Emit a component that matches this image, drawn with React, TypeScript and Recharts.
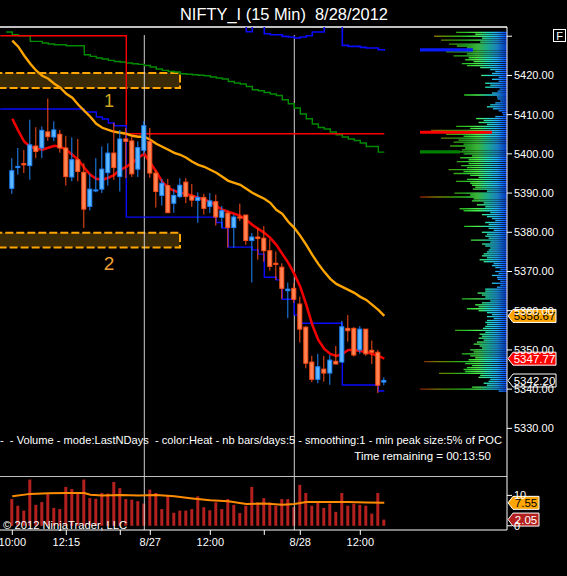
import React from 'react';
import { ComposedChart, Bar, Line, XAxis, YAxis, ReferenceLine, ReferenceArea } from 'recharts';

const FONT = "Arial, 'Liberation Sans', Helvetica, sans-serif";

// ---- 15-min candles, bar 0 = 8/24 10:00 ... bar 62 = 8/28 13:00 ----
const opens = [5391.2, 5396.5, 5397.5, 5397.0, 5402.0, 5401.5, 5405.6, 5404.3, 5405.0, 5401.5, 5394.1, 5398.5, 5395.3, 5386.6, 5390.6, 5391.0, 5395.2, 5400.2, 5394.2, 5403.8, 5403.3, 5396.1, 5400.9, 5403.2, 5395.1, 5389.4, 5391.9, 5387.4, 5389.1, 5392.8, 5389.3, 5388.1, 5388.9, 5386.6, 5387.8, 5383.8, 5384.9, 5381.2, 5383.9, 5384.4, 5377.9, 5378.8, 5378.5, 5375.3, 5372.1, 5371.1, 5365.1, 5365.7, 5361.7, 5355.8, 5346.9, 5342.5, 5345.1, 5344.1, 5347.1, 5346.9, 5355.5, 5355.5, 5350.0, 5355.3, 5349.9, 5349.4, 5341.8];
const highs = [5398.9, 5401.5, 5401.0, 5408.7, 5406.8, 5407.0, 5414.1, 5408.3, 5406.1, 5404.6, 5404.2, 5403.8, 5397.6, 5394.9, 5398.9, 5401.9, 5402.7, 5407.9, 5406.1, 5406.6, 5404.4, 5403.2, 5408.3, 5406.6, 5395.9, 5393.6, 5393.6, 5391.1, 5393.8, 5393.8, 5392.3, 5390.2, 5389.8, 5390.0, 5389.6, 5386.7, 5385.5, 5384.5, 5387.3, 5384.4, 5379.8, 5381.1, 5381.6, 5378.2, 5375.1, 5372.1, 5367.2, 5367.0, 5363.6, 5356.1, 5348.5, 5349.0, 5348.5, 5348.7, 5351.0, 5357.4, 5358.9, 5355.8, 5356.1, 5355.3, 5352.4, 5350.0, 5343.0];
const lows = [5389.8, 5394.7, 5395.1, 5393.4, 5398.9, 5398.9, 5403.3, 5403.2, 5400.3, 5391.9, 5393.0, 5393.0, 5381.1, 5385.6, 5390.2, 5390.0, 5391.9, 5393.4, 5390.4, 5393.8, 5394.1, 5394.1, 5399.8, 5393.9, 5386.3, 5386.8, 5384.9, 5385.0, 5388.7, 5387.4, 5386.5, 5382.4, 5384.5, 5384.9, 5381.7, 5381.1, 5376.1, 5376.1, 5382.9, 5376.8, 5367.2, 5373.0, 5372.5, 5370.2, 5367.9, 5363.0, 5358.1, 5362.0, 5351.9, 5345.3, 5341.8, 5341.5, 5341.9, 5341.1, 5346.4, 5346.9, 5352.1, 5348.3, 5349.0, 5348.5, 5346.4, 5339.0, 5341.0];
const closes = [5395.7, 5396.8, 5397.2, 5402.3, 5400.6, 5406.0, 5404.4, 5406.1, 5401.5, 5394.2, 5398.5, 5395.5, 5385.9, 5391.0, 5390.8, 5396.1, 5400.2, 5396.5, 5403.8, 5403.2, 5394.9, 5401.6, 5407.2, 5395.1, 5390.4, 5392.5, 5385.0, 5389.4, 5392.0, 5389.1, 5388.2, 5388.9, 5386.1, 5388.0, 5383.9, 5385.5, 5381.2, 5383.9, 5383.7, 5377.9, 5378.8, 5378.4, 5375.3, 5371.3, 5371.8, 5365.7, 5365.5, 5362.9, 5355.3, 5346.6, 5342.5, 5345.7, 5344.1, 5347.4, 5346.4, 5355.9, 5354.9, 5348.7, 5355.3, 5349.0, 5349.4, 5341.0, 5342.2];

// volume panel (bar 0..62)
const volumes = [8.8, 6.6, 5.0, 15.2, 6.9, 7.8, 10.5, 5.9, 5.5, 12.8, 12.1, 10.8, 15.2, 9.1, 8.9, 10.8, 10.6, 14.4, 12.4, 8.8, 8.6, 8.1, 7.3, 11.9, 10.8, 5.5, 10.0, 4.3, 5.0, 5.0, 5.5, 9.7, 6.1, 5.1, 7.7, 5.5, 8.8, 6.9, 4.2, 6.6, 12.8, 7.7, 9.1, 7.7, 6.6, 8.8, 8.8, 6.1, 13.5, 10.8, 6.6, 7.5, 5.9, 7.3, 4.6, 10.8, 6.6, 7.3, 6.9, 6.6, 4.0, 10.8, 2.05];
const volumeMA = [9.7, null, null, 10.5, null, null, 10.7, null, null, 10.8, null, null, 10.8, 10.2, null, 10.0, null, null, 10.1, null, null, 10.0, null, null, 10.1, null, null, 9.7, null, null, 9.0, null, null, 8.4, null, null, 8.1, null, null, 7.2, null, null, 7.3, null, null, 6.9, null, 7.2, null, 7.8, null, null, 7.8, null, null, null, 7.8, null, null, 7.7, null, null, 7.55];

// ---- indicator lines, slots -2 .. 62 ----
const lineIndex = Array.from({ length: 65 }, (_, k) => k - 2);
const redMA = [null, null, 5408.95, 5405.89, 5403.08, 5401.81, 5401.30, 5401.04, 5401.55, 5402.06, 5401.81, 5401.04, 5399.76, 5398.49, 5396.45, 5394.66, 5393.64, 5393.38, 5393.89, 5394.66, 5395.94, 5396.70, 5397.72, 5399.0, 5400.0, 5397.72, 5395.43, 5392.87, 5391.34, 5390.58, 5390.07, 5389.81, 5389.30, 5388.79, 5388.28, 5387.77, 5386.75, 5385.73, 5385.22, 5384.71, 5384.20, 5383.18, 5381.90, 5380.88, 5379.86, 5378.58, 5376.80, 5374.50, 5372.20, 5369.40, 5366.08, 5361.48, 5356.38, 5352.55, 5350.26, 5348.98, 5348.47, 5348.98, 5350.00, 5350.00, 5349.74, 5349.49, 5348.98, 5348.47, 5347.77];
const orangeMA = [null, null, 5428.86, 5427.33, 5425.03, 5422.99, 5421.20, 5419.92, 5419.16, 5417.88, 5416.86, 5415.33, 5414.31, 5412.52, 5410.99, 5409.46, 5407.68, 5406.65, 5406.14, 5405.63, 5405.38, 5405.12, 5404.61, 5404.36, 5404.36, 5403.59, 5402.57, 5401.81, 5401.04, 5400.27, 5399.76, 5399.00, 5397.98, 5397.21, 5396.70, 5395.94, 5395.17, 5394.15, 5393.13, 5392.62, 5392.11, 5391.09, 5390.07, 5389.30, 5388.54, 5387.51, 5385.73, 5384.71, 5382.67, 5381.13, 5379.09, 5376.80, 5374.24, 5371.95, 5369.91, 5368.12, 5366.84, 5366.08, 5365.31, 5364.55, 5363.53, 5362.76, 5361.48, 5360.21, 5358.67];
const greenStep = [null, 5431.08, 5430.39, 5430.13, 5430.13, 5428.68, 5428.68, 5428.27, 5428.01, 5427.84, 5427.84, 5427.58, 5427.58, 5427.58, 5425.28, 5424.85, 5424.44, 5424.19, 5423.83, 5423.57, 5423.42, 5423.17, 5422.99, 5422.81, 5422.55, 5422.15, 5421.64, 5421.28, 5421.02, 5420.87, 5420.44, 5420.31, 5420.18, 5420.05, 5419.92, 5419.59, 5419.34, 5419.08, 5418.47, 5418.06, 5417.81, 5417.19, 5416.35, 5416.10, 5415.66, 5415.25, 5414.90, 5413.80, 5412.78, 5411.68, 5410.15, 5408.95, 5407.60, 5406.73, 5406.32, 5405.56, 5404.87, 5404.28, 5403.77, 5403.41, 5402.75, 5401.88, 5401.88, 5400.45, 5400.45];
const blueLow = [5411.43, 5411.43, 5411.43, 5411.43, 5411.43, 5411.43, 5411.43, 5411.43, 5411.43, 5411.43, 5411.43, 5411.43, 5411.43, 5411.43, 5410.66, 5410.66, 5409.39, 5408.87, 5407.85, 5407.16, 5407.16, 5383.87, 5383.87, 5383.87, 5383.87, 5383.87, 5383.87, 5383.87, 5383.87, 5383.87, 5383.87, 5383.87, 5383.87, 5383.87, 5383.87, 5383.87, 5382.49, 5381.06, 5376.21, 5376.21, 5376.21, 5376.21, 5375.52, 5374.42, 5368.55, 5368.55, 5367.86, 5362.94, 5362.94, 5358.93, 5356.81, 5356.81, 5356.81, 5356.81, 5356.81, 5356.81, 5356.81, 5341.07, 5341.07, 5341.07, 5341.07, 5341.07, 5341.07, 5339.54, 5339.54];
const blueHigh = [null, null, null, null, null, null, null, null, null, null, null, null, null, null, null, null, null, null, null, null, null, null, null, null, null, null, null, null, null, null, null, null, null, null, null, null, null, null, null, null, 5433.5, 5431.15, 5432.6, 5432.6, 5430.64, 5430.39, 5430.39, 5429.95, 5429.80, 5429.55, 5429.80, 5430.13, 5431.08, 5431.08, 5432.6, 5432.6, 5432.6, 5427.66, 5427.40, 5427.40, 5427.15, 5427.00, 5427.00, 5426.56, 5426.31];
const redLevel = [5430.13, 5430.13, 5430.13, 5430.13, 5430.13, 5430.13, 5430.13, 5430.13, 5430.13, 5430.13, 5430.13, 5430.13, 5430.13, 5430.13, 5430.13, 5430.13, 5430.13, 5430.13, 5430.13, 5430.13, 5430.13, 5405.12, 5405.12, 5405.12, 5405.12, 5405.12, 5405.12, 5405.12, 5405.12, 5405.12, 5405.12, 5405.12, 5405.12, 5405.12, 5405.12, 5405.12, 5405.12, 5405.12, 5405.12, 5405.12, 5405.12, 5405.12, 5405.12, 5405.12, 5405.12, 5405.12, 5405.12, 5405.12, 5405.12, 5405.12, 5405.12, 5405.12, 5405.12, 5405.12, 5405.12, 5405.12, 5405.12, 5405.12, 5405.12, 5405.12, 5405.12, 5405.12, 5405.12, 5405.12, 5405.12];

// zones (price bands) and their right end (bar slot)
const zoneTop = [5420.6, 5379.9];
const zoneBottom = [5416.8, 5376.1];
const zoneEnd = 27.95;

// axes
const priceTicks = [5330, 5340, 5350, 5360, 5370, 5380, 5390, 5400, 5410, 5420, 5430];
const priceDomain = [5317.85, 5432.35];
const slotDomain = [-2.05, 82.45];
const timeTickIndex = [0, 9, 18, 23, 33, 42, 48, 58];
const timeTickText = ['10:00', '12:15', '', '8/27', '12:00', '', '8/28', '12:00'];
const sessionBreaks = [22, 47];
const volumeDomain = [-1.38, 16.38];
const volumeTicks = [0, 10];

// volume profile: rows every 0.5 pt from 5431.0 down, drawn leftwards from the right edge
const profileTop = 5431.0;
const profileStep = 0.5;
const profileWidthSlots = 14.5; // width (in bar slots) given to the largest row
const profileVolume = [50.7, 31.7, 72.7, 25, 65.7, 26.7, 57.7, 50, 40, 86.7, 60.7, 40, 53.3, 38.3, 41.7, 33.3, 45, 40, 26.7, 16.7, 11.7, 15, 25.7, 8.3, 15, 8.3, 21.7, 16.7, 21.7, 7.3, 9.3, 15, 42.7, 10, 9.3, 6.7, 11.7, 16.7, 20, 14, 8.3, 5, 4, 11.7, 30.7, 23.3, 28.3, 20, 50.7, 36.7, 75.7, 86.7, 60.7, 43.3, 65.7, 48.3, 53.3, 43.3, 56.7, 41.7, 45, 86.7, 43.3, 35, 46.7, 38.3, 50, 38.3, 45.7, 40, 58.3, 43.3, 53.3, 36.7, 28.3, 40, 50.7, 36.7, 35, 31.7, 34, 20, 52.3, 36.7, 86.7, 33.3, 35, 23.3, 30, 21.7, 47.3, 43.3, 16.7, 25, 20, 15, 11.7, 21.7, 18.3, 42.7, 18.3, 13.3, 25, 20, 21.7, 18.3, 36, 16.7, 25, 21.7, 16.7, 18.3, 20, 23.3, 25, 20, 27.3, 23.3, 13.3, 15, 11.7, 6.7, 11.7, 8.3, 15, 10, 9.3, 6.7, 15, 6.7, 10, 21.7, 21.7, 29.3, 25, 21.7, 45, 16.7, 25, 31.7, 28.3, 40, 28.3, 20, 15, 20, 13.3, 20, 21.7, 20, 21.7, 24, 51.7, 21.7, 27.3, 25, 28.3, 23.3, 30, 33.3, 27.3, 25, 36.7, 33.3, 45, 36.7, 31.7, 38.3, 82.7, 41.7, 35, 40, 43.3, 41.7, 67.7, 26.7, 28.3, 16.7, 18.3, 23.3, 20, 35, 86.7, 8.3];
const profilePeakRow = [9, 51, 61];
const profilePeakFrom = [34, 15, 47];
const profilePeakTo = [86.7, 86.7, 86.7];
const profilePeakColor = ['#0a1cff', '#ff0000', '#008000'];
const profileMax = Math.max(...profileVolume);
const profileX = (v: number) => slotDomain[1] - (v / profileMax) * profileWidthSlots;

const priceData = lineIndex.map((i, k) => ({
  i,
  range: i >= 0 ? [lows[i], highs[i]] : null,
  o: i >= 0 ? opens[i] : null,
  h: i >= 0 ? highs[i] : null,
  l: i >= 0 ? lows[i] : null,
  c: i >= 0 ? closes[i] : null,
  redMA: redMA[k],
  orangeMA: orangeMA[k],
  green: greenStep[k],
  blueLow: blueLow[k],
  blueHigh: blueHigh[k],
  redLevel: redLevel[k],
}));

const volumeData = volumes.map((v, i) => ({ i, v, ma: volumeMA[i] }));

const lastClose = closes[closes.length - 1];
const lastRed = redMA[redMA.length - 1] as number;
const lastOrange = orangeMA[orangeMA.length - 1] as number;
const lastVolMA = volumeMA[volumeMA.length - 1] as number;
const lastVol = volumes[volumes.length - 1];

const Candle = (props: any) => {
  const { x, y, width, height, payload } = props;
  if (!payload || payload.range == null || !isFinite(y) || !isFinite(height)) return null;
  const top = Math.min(y, y + height);
  const hh = Math.abs(height);
  const span = payload.h - payload.l || 1;
  const py = (p: number) => top + ((payload.h - p) / span) * hh;
  const cx = x + width / 2;
  const up = payload.c >= payload.o;
  const border = up ? '#1f86ff' : '#ff4d17';
  const fill = up ? '#5db9ff' : '#ff8352';
  const bTop = py(Math.max(payload.o, payload.c));
  let bBot = py(Math.min(payload.o, payload.c));
  if (bBot - bTop < 1) bBot = bTop + 1;
  return (
    <g>
      <line x1={cx} x2={cx} y1={top} y2={top + hh} stroke={border} strokeWidth={1} />
      <rect x={cx - 2} y={bTop} width={4} height={bBot - bTop} fill={fill} stroke={border} strokeWidth={1} />
    </g>
  );
};

const makeTag = (text: string, fill: string, textColor: string, w: number) => (props: any) => {
  const vb = props.viewBox || {};
  const x = (vb.x || 0) + (vb.width || 0);
  const y = vb.y || 0;
  return (
    <g>
      <path
        d={`M${x + 1},${y} L${x + 6},${y - 6.5} L${x + 6 + w},${y - 6.5} L${x + 6 + w},${y + 6.5} L${x + 6},${y + 6.5} Z`}
        fill={fill}
        stroke="#ffffff"
        strokeWidth={1}
      />
      <text x={x + 6 + w / 2} y={y + 4} textAnchor="middle" fill={textColor} fontSize={11.5} fontFamily={FONT}>
        {text}
      </text>
    </g>
  );
};

const axisTick = { fill: '#ffffff', fontSize: 11, fontFamily: FONT };

export default function App() {
  return (
    <div style={{ position: 'absolute', left: 0, top: 0, width: 567, height: 576, background: '#000', overflow: 'hidden' }}>
      <div style={{ position: 'absolute', left: 0, top: 0 }}>
        <ComposedChart width={567} height={476} data={priceData} margin={{ top: 27, right: 0, bottom: 0, left: 0 }}>
          <defs>
            <linearGradient id="vpHeat" gradientUnits="userSpaceOnUse" x1={420} y1={0} x2={507} y2={0}>
              <stop offset="0" stopColor="#8a1a00" />
              <stop offset="0.2" stopColor="#7d7a00" />
              <stop offset="0.36" stopColor="#3f9a08" />
              <stop offset="0.52" stopColor="#28c028" />
              <stop offset="0.66" stopColor="#4cf04c" />
              <stop offset="0.78" stopColor="#22e0c0" />
              <stop offset="0.89" stopColor="#22a8ff" />
              <stop offset="1" stopColor="#0040ff" />
            </linearGradient>
          </defs>
          <XAxis dataKey="i" type="number" domain={slotDomain} allowDataOverflow hide />
          <YAxis
            orientation="right"
            width={60}
            domain={priceDomain}
            allowDataOverflow
            ticks={priceTicks}
            interval={0}
            tickFormatter={(v: number) => (v >= 5430 ? '' : v.toFixed(2))}
            tick={axisTick}
            tickSize={5}
            tickLine={{ stroke: '#ffffff' }}
            axisLine={{ stroke: '#ffffff' }}
          />
          {zoneTop.map((t, z) => (
            <ReferenceArea
              key={'zone' + z}
              x1={-3}
              x2={zoneEnd}
              y1={zoneBottom[z]}
              y2={t}
              fill="#3b2a06"
              fillOpacity={1}
              stroke="#ffa500"
              strokeWidth={2}
              strokeDasharray="8 3"
              ifOverflow="hidden"
            />
          ))}
          {profileVolume.map((v, k) => {
            const p = profileTop - k * profileStep;
            return (
              <ReferenceArea
                key={'vp' + k}
                x1={profileX(v)}
                x2={slotDomain[1]}
                y1={p - 0.17}
                y2={p + 0.17}
                fill="url(#vpHeat)"
                fillOpacity={1}
                stroke="none"
                ifOverflow="hidden"
              />
            );
          })}
          {profilePeakRow.map((row, n) => {
            const p = profileTop - row * profileStep;
            return (
              <ReferenceArea
                key={'peak' + n}
                x1={profileX(profilePeakTo[n])}
                x2={profileX(profilePeakFrom[n])}
                y1={p - 0.4}
                y2={p + 0.4}
                fill={profilePeakColor[n]}
                fillOpacity={1}
                stroke="none"
                ifOverflow="hidden"
              />
            );
          })}
          <ReferenceLine y={priceDomain[1]} stroke="#ffffff" strokeWidth={1.5} />
          {sessionBreaks.map((s) => (
            <ReferenceLine
              key={'sb' + s}
              segment={[{ x: s, y: 5430.3 }, { x: s, y: priceDomain[0] }]}
              stroke="#cfcfcf"
              strokeWidth={1}
            />
          ))}
          <Line dataKey="green" type="stepAfter" stroke="#008a00" strokeWidth={1.4} dot={false} isAnimationActive={false} />
          <Line dataKey="redLevel" type="stepAfter" stroke="#ff0000" strokeWidth={1.4} dot={false} isAnimationActive={false} />
          <Line dataKey="blueLow" type="stepAfter" stroke="#0a0aff" strokeWidth={1.4} dot={false} isAnimationActive={false} />
          <Line dataKey="blueHigh" type="stepAfter" stroke="#0a0aff" strokeWidth={1.6} dot={false} isAnimationActive={false} />
          <Line dataKey="orangeMA" type="linear" stroke="#ffa500" strokeWidth={2.4} dot={false} isAnimationActive={false} />
          <Line dataKey="redMA" type="linear" stroke="#f00000" strokeWidth={2.6} dot={false} isAnimationActive={false} />
          <Bar dataKey="range" barSize={5} shape={Candle} isAnimationActive={false} zIndex={450} />
          <ReferenceLine y={lastOrange} stroke="none" label={makeTag(lastOrange.toFixed(2), '#ffa500', '#000000', 43)} />
          <ReferenceLine y={lastRed} stroke="none" label={makeTag(lastRed.toFixed(2), '#ff0000', '#ffffff', 43)} />
          <ReferenceLine y={lastClose} stroke="none" label={makeTag(lastClose.toFixed(2), '#000000', '#ffffff', 43)} />
        </ComposedChart>
      </div>
      <div style={{ position: 'absolute', left: 0, top: 476 }}>
        <ComposedChart width={567} height={100} data={volumeData} margin={{ top: 0, right: 0, bottom: 0, left: 0 }}>
          <XAxis
            dataKey="i"
            type="number"
            domain={slotDomain}
            allowDataOverflow
            ticks={timeTickIndex}
            interval={0}
            tickFormatter={(v: number) => timeTickText[timeTickIndex.indexOf(v)] || ''}
            tick={axisTick}
            tickSize={5}
            tickMargin={3}
            tickLine={{ stroke: '#ffffff' }}
            axisLine={{ stroke: '#ffffff' }}
            height={46}
          />
          <YAxis
            orientation="right"
            width={60}
            domain={volumeDomain}
            allowDataOverflow
            ticks={volumeTicks}
            interval={0}
            tick={axisTick}
            tickSize={5}
            tickLine={{ stroke: '#ffffff' }}
            axisLine={{ stroke: '#ffffff' }}
          />
          <ReferenceLine y={volumeDomain[1]} stroke="#ffffff" strokeWidth={1.5} />
          {sessionBreaks.map((s) => (
            <ReferenceLine key={'vsb' + s} x={s} stroke="#cfcfcf" strokeWidth={1} />
          ))}
          <Bar dataKey="v" barSize={3} fill="#b3201e" isAnimationActive={false} />
          <Line dataKey="ma" type="linear" stroke="#ff8c00" strokeWidth={2} dot={false} connectNulls isAnimationActive={false} />
          <ReferenceLine y={lastVolMA} stroke="none" label={makeTag(lastVolMA.toFixed(2), '#ffa500', '#000000', 26)} />
          <ReferenceLine y={lastVol} stroke="none" label={makeTag(lastVol.toFixed(2), '#b3201e', '#ffffff', 26)} />
        </ComposedChart>
      </div>
      <svg width={567} height={576} style={{ position: 'absolute', left: 0, top: 0, pointerEvents: 'none' }}>
        <text x={180} y={19.5} fill="#ffffff" fontSize={16} fontFamily={FONT} textLength={208} lengthAdjust="spacingAndGlyphs" style={{ whiteSpace: 'pre' }}>
          {'NIFTY_I (15 Min)  8/28/2012'}
        </text>
        <rect x={553.5} y={29.5} width={12} height={12} fill="none" stroke="#ffffff" strokeWidth={1} />
        <text x={559.5} y={39.5} fill="#ffffff" fontSize={11} fontFamily={FONT} textAnchor="middle">F</text>
        <text x={109} y={107} fill="#d2a622" fontSize={18} fontFamily={FONT} textAnchor="middle">1</text>
        <text x={109} y={270} fill="#f0a030" fontSize={19} fontFamily={FONT} textAnchor="middle">2</text>
        <text x={0} y={444} fill="#ffffff" fontSize={11.5} fontFamily={FONT} textLength={502} lengthAdjust="spacingAndGlyphs" style={{ whiteSpace: 'pre' }}>
          {'-  - Volume - mode:LastNDays  - color:Heat - nb bars/days:5 - smoothing:1 - min peak size:5% of POC'}
        </text>
        <text x={491} y={460} fill="#ffffff" fontSize={11.5} fontFamily={FONT} textAnchor="end">
          {'Time remaining = 00:13:50'}
        </text>
        <text x={3} y={528.5} fill="#ffffff" fontSize={11.3} fontFamily={FONT} textLength={124} lengthAdjust="spacingAndGlyphs">
          {'© 2012 NinjaTrader, LLC'}
        </text>
      </svg>
    </div>
  );
}
